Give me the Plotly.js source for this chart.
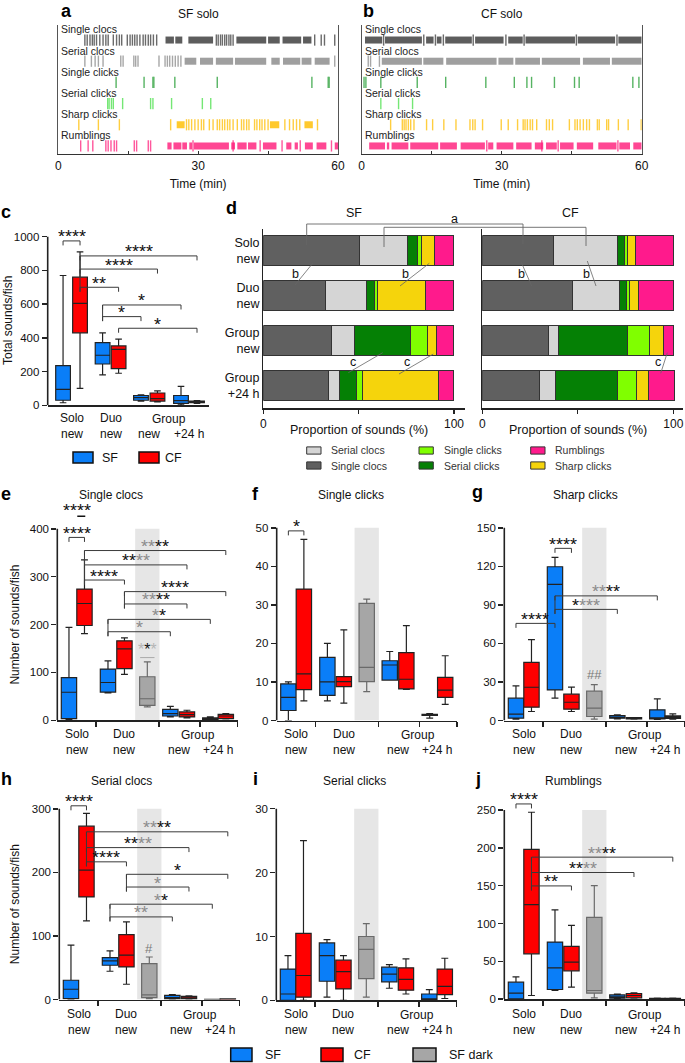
<!DOCTYPE html>
<html><head><meta charset="utf-8">
<script src="https://cdn.plot.ly/plotly-3.0.1.min.js"></script>
<style>html,body{margin:0;padding:0;background:#fff}</style>
</head><body><div id="chart" style="width:685px;height:1063px"></div>
<script>
// ======================= DATA =======================
const rowNames = ['Single clocs','Serial clocs','Single clicks','Serial clicks','Sharp clicks','Rumblings'];

// Panel a: SF solo — isolated sound times (min) and dense bouts [start, end] (min)
const aSingleClocsT = [5.7,6.2,6.8,7.3,7.7,8.2,8.9,9.6,10.2,10.7,11.8,12.5,13.1,13.6,14.8,15.4,15.9,16.4,16.9,17.5,18.2,18.7,19.3,19.8,20.4,21.1,33.9,34.3,34.8,35.2,35.7,36.1,36.6,37.0,37.5,55.0,56.4,57.1,59.3];
const aSingleClocsB = [[23.0,24.8],[25.1,26.6],[27.9,33.2],[38.2,44.6],[45.0,47.5],[48.1,52.1],[52.5,54.3]];
const aSerialClocsT = [5.7,7.1,7.9,8.6,9.6,13.4,13.9,16.2,16.6,17.1,21.6,22.9,23.4,23.9,24.5,25.1,25.7,26.3,59.3];
const aSerialClocsB = [[27.1,29.6],[30.4,33.2],[33.8,37.5],[37.9,44.6],[45.7,47.5],[48.2,51.9],[52.2,54.3],[55.0,58.2]];
const aSingleClicksT = [12.4,18.4,20.3,20.5,25.0,34.1,54.4,57.9,58.1];
const aSingleClicksB = [];
const aSerialClicksT = [10.6,10.9,11.4,11.8,13.8,19.8,20.3,24.3,30.9,32.7];
const aSerialClicksB = [];
const aSharpClicksT = [4.4,8.6,13.1,24.1,27.5,28.0,28.6,29.3,30.0,30.7,31.2,32.4,33.2,34.1,34.6,35.2,35.7,36.3,36.8,37.5,38.4,39.3,39.8,40.4,40.9,42.1,42.6,43.2,43.7,44.3,45.0,48.6,49.6,50.4,51.1,51.8,55.6];
const aSharpClicksB = [[25.4,27.1],[45.4,47.4],[52.8,54.6]];
const aRumblingsT = [4.8,6.4,7.4,10.2,10.7,11.3,12.0,12.5,16.3,16.8,19.3,19.8,28.9,37.5,43.3,48.0,51.9,58.6];
const aRumblingsB = [[23.4,24.3],[24.7,26.4],[26.6,27.6],[28.1,28.7],[29.1,36.6],[37.1,37.9],[38.4,40.4],[40.7,42.5],[43.9,46.8],[48.9,50.0],[50.7,51.4],[52.9,54.6],[55.4,57.5],[59.3,60.0]];

// Panel b: CF solo
const bSingleClocsT = [4.7,13.3,15.8,17.5,23.9,30.9,34.8,46.0,54.7];
const bSingleClocsB = [[0.7,4.4],[5.0,12.9],[13.8,15.4],[16.1,17.1],[17.9,23.6],[24.3,30.4],[31.4,34.5],[35.1,45.7],[46.3,54.3],[55.0,60.0]];
const bSerialClocsT = [1.4,1.9,3.8];
const bSerialClocsB = [[4.3,12.9],[13.2,17.5],[18.1,28.9],[29.3,32.5],[32.9,38.2],[38.6,46.8],[47.4,53.2],[53.6,60.0]];
const bSingleClicksT = [0.5,0.9,4.1,11.9,18.0,26.6,32.7,35.4,36.4,41.3,45.6,46.6,58.1,59.4];
const bSingleClicksB = [];
const bSerialClicksT = [4.1,7.9,10.9];
const bSerialClicksB = [];
const bSharpClicksT = [6.2,8.7,9.1,9.5,10.0,10.5,11.2,13.9,15.2,17.6,20.2,23.2,23.8,24.3,25.9,29.9,31.4,33.4,34.6,35.0,35.5,36.1,36.6,37.5,39.6,40.2,40.9,44.5,45.7,46.2,46.8,47.5,48.2,48.8,50.5,50.9,52.5,52.9,55.0,57.1,59.9];
const bSharpClicksB = [];
const bRumblingsT = [26.8,38.6,42.1,54.9];
const bRumblingsB = [[1.6,5.0],[5.4,5.9],[6.4,10.0],[10.4,16.4],[16.8,20.4],[21.2,26.4],[27.1,28.2],[28.9,32.5],[33.1,36.4],[37.1,38.9],[39.5,41.8],[42.5,45.4],[46.1,49.6],[50.7,54.6],[55.2,57.5],[58.2,60.0]];

// Panel c: total sounds per fish; rows = [lower whisker, Q1, median, Q3, upper whisker]
const cGroups = ['Solo new SF','Solo new CF','Duo new SF','Duo new CF','Group new SF','Group new CF','Group +24 h SF','Group +24 h CF'];
const totalSoundsStats = [[15,30,95,235,770],[100,430,605,760,910],[180,245,297,372,430],[190,218,332,352,392],[25,30,45,58,62],[20,25,40,73,85],[3,12,28,58,112],[12,15,20,25,28]];
const cBrackets = [[0,1,975,'****'],[1,7,886,'****'],[1,5,808,'****'],[1,3,700,'**'],[2,6,595,'*'],[2,4,526,'*'],[3,7,457,'*']];

// Panel d: proportion of sounds (%) — columns in stacking order
const dRows = ['Solo<br>new','Duo<br>new','Group<br>new','Group<br>+24 h'];
const dTypes = ['Single clocs','Serial clocs','Serial clicks','Single clicks','Sharp clicks','Rumblings'];
const sfProportions = [[50.7,24.8,5.4,2.3,6.6,10.1],[32.7,21.2,4.4,1.7,24.8,15.2],[35.8,12.2,29.2,8.9,4.9,8.9],[34.1,6.1,8.7,3.1,40.0,7.9]];
const cfProportions = [[37.5,33.3,3.8,1.4,4.2,19.7],[47.3,24.4,3.8,1.4,5.1,18.0],[34.9,4.9,36.3,11.7,7.0,5.2],[29.8,8.7,32.3,9.9,6.1,14.0]];

// Panels e–j: 9 groups; rows = [lower whisker, Q1, median, Q3, upper whisker]
const groups9 = ['Solo new SF','Solo new CF','Duo new SF','Duo new CF','Duo new SF dark','Group new SF','Group new CF','Group +24 h SF','Group +24 h CF'];
const groupKind = ['SF','CF','SF','CF','dark','SF','CF','SF','CF'];
const singleClocsStats = [[1,3.5,58.6,89,194],[181,198,244,274,335],[57,59,79,107,124],[96,108,149,166,172],[28,31,45,91,122],[7,9,14,23,29],[5,7,12,17.5,21],[1,2,3.5,5,7],[3,3.5,9,12.5,14]];
const singleClicksStats = [[0,2.6,6,9.5,10],[5.1,8,12.1,34.1,47],[5.1,6.5,10,16.4,20],[4.5,8.8,10.1,11.4,23.5],[7.5,10.1,13.8,30.4,31.5],[10.5,10.5,14.4,15.5,17.9],[8.1,8.2,10.7,17.6,24.6],[0.6,1.3,1.5,1.6,1.8],[4.2,6,7.9,11.2,16.8]];
const sharpClicksStats = [[1,1.8,4.9,17.4,27],[7,10.4,25.9,45.3,63],[17.4,23.8,106,119.7,127],[7,8.8,14.2,20.5,26],[1,3.1,9.6,22.8,28],[1.3,1.8,2.6,3.9,4.4],[1,1.3,1.8,2.3,2.3],[0.8,1.3,1.8,8.3,16.8],[1,1.6,2.6,3.6,5.2]];
const serialClocsStats = [[0,1.6,16.3,30.4,85.5],[123.8,161.5,203.5,272.7,292.7],[44.6,54,60.8,66,76.6],[24.1,51.4,69.8,102.3,122.2],[1,3.1,7.3,56.6,67],[0.5,1,3.1,6.8,7.9],[0.5,1,2.6,5.2,5.8],[0,0,0.1,0.3,0.5],[0,0.3,0.6,1,1.3]];
const serialClicksStats = [[0,0,1,4.9,7],[0,0.5,3.9,10.5,25],[0.5,3,7,9,9.5],[0,1.8,4.5,6.3,7],[0.5,3.4,8,10,12],[1.9,2.9,4.1,5.2,5.6],[1,1.6,3.3,5.1,6.5],[0,0.1,0.2,1,1.7],[0.3,0.9,2.2,4.9,6.6]];
const rumblingsStats = [[0,0.4,8,22.5,29.6],[4.9,60,125,198,247],[11.5,12.8,41.5,75.5,118],[16,37.5,49,69.8,97.6],[1.8,8,11.5,108.2,150],[0.4,1.3,3,5.7,6.6],[1.3,1.8,4.9,7.5,8.4],[0,0.2,0.5,1,1.5],[0,0.3,0.6,1,1.5]];

// Significance brackets: [group a, group b, height, stars ('g' = grey star)]
const eBrackets = [[0,1,382,'****'],[1,8,354.6,'gg**'],[1,6,324.6,'**gg'],[1,3,293,'****'],[3,8,268.8,'****'],[3,6,243,'gg**'],[2,7,210.8,'g*'],[2,5,185,'g']];
const fBrackets = [[0,1,49.2,'*']];
const gBrackets = [[2,3,134,'****'],[0,2,75.6,'****'],[2,7,97,'gg**'],[2,5,86.5,'*ggg']];
const hBrackets = [[0,1,304.7,'****'],[1,8,263.8,'gg**'],[1,6,239,'**gg'],[1,3,216.6,'****'],[3,8,197,'*'],[3,6,177,'g'],[2,7,150,'g*'],[2,5,130,'gg']];
const iBrackets = [];
const jBrackets = [[0,1,258,'****'],[1,8,187.7,'gg**'],[1,6,167.4,'**gg'],[1,3,149.7,'**']];

// ======================= STYLE / LAYOUT =======================
const W = 685, H = 1063;
const FONT = 'Liberation Sans, Arial, Helvetica, sans-serif';
const fx = px => px / W, fy = py => 1 - py / H;
const C = {SF:'#0a7ef8', CF:'#ff0000', dark:'#a6a6a6'};
const rowColors = ['#3a3a3a','#8a8a8a','#1e9a2e','#48e048','#ffbe00','#ff1f7c'];
const dColors = ['#606060','#d5d5d5','#058005','#80ff00','#f5d40c','#ff1a8c'];
const traces = [], shapes = [], annotations = [];
const layout = {width:W, height:H, margin:{l:0,r:0,t:0,b:0}, showlegend:false, hovermode:false,
  barmode:'stack', boxmode:'overlay', paper_bgcolor:'#fff', plot_bgcolor:'rgba(0,0,0,0)',
  font:{family:FONT, size:11, color:'#111'}};

function names(n){ const s = n===1 ? '' : String(n); return {xk:'xaxis'+s, yk:'yaxis'+s, xr:'x'+s, yr:'y'+s}; }
function txt(text, xpx, ypx, o){ annotations.push(Object.assign({text, xref:'paper', yref:'paper', x:fx(xpx), y:fy(ypx), showarrow:false, xanchor:'center', yanchor:'middle', font:{size:11, color:'#111', family:FONT}}, o||{})); }
function pline(x0,y0,x1,y1,color,w){ shapes.push({type:'line', xref:'paper', yref:'paper', x0:fx(x0), y0:fy(y0), x1:fx(x1), y1:fy(y1), line:{color:color||'#444', width:w||0.8}}); }
function prect(x0,y0,x1,y1,fill){ shapes.push({type:'rect', xref:'paper', yref:'paper', x0:fx(x0), y0:fy(y0), x1:fx(x1), y1:fy(y1), fillcolor:fill, line:{color:'#111', width:1.5}}); }
function letter(l, xpx, ypx){ txt('<b>'+l+'</b>', xpx, ypx, {font:{size:18, color:'#000', family:FONT}}); }
function starsHTML(lbl){ return lbl.split('').map(ch => ch==='g' ? '<span style="color:#8c8c8c">*</span>' : '*').join(''); }
// star labels: compact box (the asterisk glyph sits in the top part of the line box)
function starAnn(text, xr, yr, x, y, size){
  return {text, xref:xr, yref:yr, x, y, xanchor:'center', yanchor:'middle', height:9, valign:'top', yshift:9,
    showarrow:false, font:{size:size||18, color:'#111', family:FONT}};
}

// ---------- Raster panels (a, b) ----------
function drawRaster(n, leftPx, rightPx, rowsT, rowsB, title){
  const A = names(n);
  layout[A.xk] = {domain:[fx(leftPx), fx(rightPx)], anchor:A.yr, range:[0,60], tickvals:[0,15,30,45,60], ticktext:['0','','30','','60'],
    ticks:'inside', ticklen:3, tickwidth:1, tickcolor:'#333', showline:true, linecolor:'#333', linewidth:1.3,
    showgrid:false, zeroline:false, tickfont:{size:12}, title:{text:'Time (min)', font:{size:12}, standoff:8}};
  layout[A.yk] = {domain:[fy(154), fy(25)], anchor:A.xr, range:[5.38,-0.71], showline:true, mirror:true, linecolor:'#555', linewidth:1.2,
    ticks:'', showticklabels:false, showgrid:false, zeroline:false};
  rowsT.forEach((times, r) => {
    const bx = [], by = [];
    rowsB[r].forEach(b => { bx.push(b[0], b[1], null); by.push(r, r, null); });
    if (bx.length) traces.push({type:'scatter', mode:'lines', xaxis:A.xr, yaxis:A.yr, x:bx, y:by, opacity:0.82,
      line:{color:rowColors[r], width:7}});
    traces.push({type:'scatter', mode:'markers', xaxis:A.xr, yaxis:A.yr, x:times, y:times.map(() => r), opacity:0.75,
      marker:{symbol:'line-ns', size:8, line:{width:1.4, color:rowColors[r]}}});
    annotations.push({text:rowNames[r], xref:A.xr, yref:A.yr, x:0, y:r-0.5, xanchor:'left', yanchor:'middle', xshift:1,
      showarrow:false, font:{size:10.5, color:'#222', family:FONT}});
  });
  txt(title, (leftPx+rightPx)/2, 14, {font:{size:12, color:'#111', family:FONT}});
}
drawRaster(1, 58.3, 338, [aSingleClocsT,aSerialClocsT,aSingleClicksT,aSerialClicksT,aSharpClicksT,aRumblingsT],
  [aSingleClocsB,aSerialClocsB,aSingleClicksB,aSerialClicksB,aSharpClicksB,aRumblingsB], 'SF solo');
drawRaster(2, 361.7, 641.7, [bSingleClocsT,bSerialClocsT,bSingleClicksT,bSerialClicksT,bSharpClicksT,bRumblingsT],
  [bSingleClocsB,bSerialClocsB,bSingleClicksB,bSerialClicksB,bSharpClicksB,bRumblingsB], 'CF solo');
letter('a', 66, 11); letter('b', 368, 11);

// ---------- Box panels (c, e–j) ----------
function drawBoxPanel(n, cfg, stats, kinds, brackets){
  const A = names(n);
  const yr1 = cfg.ymax * (cfg.zeroPx - cfg.topPx) / (cfg.zeroPx - cfg.maxPx);
  const pxPerVal = (cfg.zeroPx - cfg.maxPx) / cfg.ymax;
  const pos = cfg.pos;
  layout[A.xk] = {domain:[fx(cfg.leftPx), fx(cfg.leftPx + cfg.widthPx)], anchor:A.yr, range:cfg.xrange,
    tickvals:cfg.seps, ticktext:cfg.seps.map(() => ''), ticks:cfg.seps.length ? 'outside' : '', ticklen:5, tickwidth:1.5, tickcolor:'#222',
    showline:true, linecolor:'#222', linewidth:1.6, showgrid:false, zeroline:false};
  const tv = []; for (let v = 0; v <= cfg.ymax + 1e-9; v += cfg.dtick) tv.push(v);
  layout[A.yk] = {domain:[fy(cfg.zeroPx), fy(cfg.topPx)], anchor:A.xr, range:[0, yr1], tickvals:tv,
    ticks:'outside', ticklen:5, tickwidth:1.5, tickcolor:'#222', showline:false, showgrid:false, zeroline:false,
    tickfont:{size:11.5}};
  shapes.push({type:'line', xref:A.xr+' domain', x0:0, x1:0, yref:A.yr, y0:0, y1:cfg.ymax, line:{color:'#222', width:1.6}});
  // grey band behind SF dark
  const di = kinds.indexOf('dark');
  if (di >= 0) shapes.push({type:'rect', layer:'below', xref:A.xr, yref:A.yr, x0:pos[di]-0.76, x1:pos[di]+0.76, y0:0, y1:cfg.ymax,
    fillcolor:'#e6e6e6', line:{width:0}});
  ['SF','CF','dark'].forEach(k => {
    const idx = kinds.map((kk,i) => kk===k ? i : -1).filter(i => i >= 0);
    if (!idx.length) return;
    traces.push({type:'box', xaxis:A.xr, yaxis:A.yr, x:idx.map(i => pos[i]),
      lowerfence:idx.map(i => stats[i][0]), q1:idx.map(i => stats[i][1]), median:idx.map(i => stats[i][2]),
      q3:idx.map(i => stats[i][3]), upperfence:idx.map(i => stats[i][4]),
      width:cfg.boxW, whiskerwidth:0.45, boxpoints:false, fillcolor:C[k],
      line:{color:k==='dark' ? '#6a6a6a' : '#222', width:1.2}});
  });
  // brackets
  const drop = 4.5 / pxPerVal;
  const byOrigin = {};
  brackets.forEach(b => {
    const [a, c, y, lbl] = b;
    shapes.push({type:'path', xref:A.xr, yref:A.yr, path:`M${pos[a]},${y-drop} L${pos[a]},${y} L${pos[c]},${y} L${pos[c]},${y-drop}`,
      line:{color:'#3a3a3a', width:1}});
    if (c - a > 1) (byOrigin[a] = byOrigin[a] || []).push(y);
    annotations.push(starAnn(starsHTML(lbl), A.xr, A.yr, (pos[a]+pos[c])/2, y));
  });
  Object.keys(byOrigin).forEach(o => {
    const ys = byOrigin[o]; if (ys.length < 2) return;
    shapes.push({type:'line', xref:A.xr, yref:A.yr, x0:pos[o], x1:pos[o], y0:Math.max(...ys), y1:Math.min(...ys)-drop, line:{color:'#3a3a3a', width:1}});
  });
  // category labels
  const m = arr => arr.reduce((s,v) => s+v, 0) / arr.length;
  const L = cfg.labels;
  const lab = (t, x, ypx) => annotations.push({text:t, xref:A.xr, yref:'paper', x:x, y:fy(ypx), xanchor:'center', yanchor:'middle',
    showarrow:false, font:{size:12, color:'#111', family:FONT}});
  lab('Solo<br>new', m([pos[L.solo[0]], pos[L.solo[1]]]), (cfg.lab1+cfg.lab2)/2);
  lab('Duo<br>new', m(L.duo.map(i => pos[i])), (cfg.lab1+cfg.lab2)/2);
  lab('Group', m(L.group.map(i => pos[i])), cfg.lab1);
  lab('new', m([pos[L.group[0]], pos[L.group[1]]]), cfg.lab2);
  lab('+24 h', m([pos[L.group[2]], pos[L.group[3]]]), cfg.lab2);
  if (cfg.title) txt(cfg.title, cfg.titleX, cfg.titleY, {font:{size:12, color:'#111', family:FONT}});
  if (cfg.ytitle) txt(cfg.ytitle, cfg.ytitleX, (cfg.zeroPx+cfg.maxPx)/2, {textangle:-90, font:{size:12, color:'#111', family:FONT}});
  return A;
}

// c
const posC = [0.96, 2.02, 3.43, 4.43, 5.83, 6.86, 8.33, 9.33];
drawBoxPanel(3, {leftPx:47.7, widthPx:161.3, zeroPx:405.3, maxPx:236.7, topPx:222, ymax:1000, dtick:200,
  pos:posC, xrange:[0,10.08], seps:[], boxW:0.92, lab1:418.5, lab2:433.5,
  labels:{solo:[0,1], duo:[2,3], group:[4,5,6,7]}, ytitle:'Total sounds/fish', ytitleX:8},
  totalSoundsStats, ['SF','CF','SF','CF','SF','CF','SF','CF'], cBrackets);
letter('c', 6, 212);
prect(73, 452, 93, 463, C.SF); txt('SF', 100, 457.5, {xanchor:'left', font:{size:12.5, color:'#111', family:FONT}});
prect(139, 452, 159, 463, C.CF); txt('CF', 163, 457.5, {xanchor:'left', font:{size:12.5, color:'#111', family:FONT}});

// e–j
const pos9 = [0, 0.97, 2.44, 3.47, 4.9, 6.34, 7.38, 8.84, 9.81];
const seps9 = [1.69, 5.63, 8.19, 10.54];
const lab9 = {solo:[0,1], duo:[3], group:[5,6,7,8]};
function cfg9(leftPx, zeroPx, maxPx, ymax, dtick, title, titleX, titleY, lab1, lab2, ytitle){
  return {leftPx, widthPx:180.5, zeroPx, maxPx, topPx:maxPx-24, ymax, dtick, pos:pos9, xrange:[-0.73,10.56], seps:seps9, boxW:0.96,
    lab1, lab2, labels:lab9, title, titleX, titleY, ytitle, ytitleX:15};
}
const eA = drawBoxPanel(6, cfg9(57.3, 720.3, 528.8, 400, 100, 'Single clocs', 111, 495, 735, 749.5, 'Number of sounds/fish'), singleClocsStats, groupKind, eBrackets);
drawBoxPanel(7, cfg9(276.7, 720.5, 527.8, 50, 10, 'Single clicks', 350.7, 495, 735, 749.5), singleClicksStats, groupKind, fBrackets);
const gA = drawBoxPanel(8, cfg9(504.3, 720.5, 527.8, 150, 30, 'Sharp clicks', 585.7, 495, 735, 749.5), sharpClicksStats, groupKind, gBrackets);
const hA = drawBoxPanel(9, cfg9(59.3, 999.6, 808.8, 300, 100, 'Serial clocs', 121.7, 781, 1015, 1029.5, 'Number of sounds/fish'), serialClocsStats, groupKind, hBrackets);
drawBoxPanel(10, cfg9(276.3, 1000.4, 808.7, 30, 10, 'Serial clicks', 354, 781, 1015, 1029.5), serialClicksStats, groupKind, iBrackets);
drawBoxPanel(11, cfg9(504.3, 999.2, 810, 250, 50, 'Rumblings', 573.3, 781, 1015, 1029.5), rumblingsStats, groupKind, jBrackets);
letter('e', 6, 494); letter('f', 256, 494); letter('g', 478, 492);
letter('h', 6, 779); letter('i', 255, 779); letter('j', 478, 779);

// extra marks in e, g, h
annotations.push(starAnn('****', eA.xr, eA.yr, (pos9[0]+pos9[1])/2, 429));
shapes.push({type:'line', xref:eA.xr, yref:eA.yr, x0:pos9[1]-0.45, x1:pos9[1]+0.05, y0:426, y1:426, line:{color:'#111', width:1.5}});
annotations.push(starAnn('<span style="color:#b5b5b5">*</span>*<span style="color:#b5b5b5">*</span>', eA.xr, eA.yr, pos9[4], 137, 16));
shapes.push({type:'line', xref:eA.xr, yref:eA.yr, x0:pos9[4]-0.45, x1:pos9[4]+0.45, y0:131, y1:131, line:{color:'#aaa', width:1}});
annotations.push({text:'##', xref:gA.xr, yref:gA.yr, x:pos9[4], y:35.5, showarrow:false, font:{size:13, color:'#7a7a7a', family:FONT}});
annotations.push({text:'#', xref:hA.xr, yref:hA.yr, x:pos9[4], y:81, showarrow:false, font:{size:13, color:'#7a7a7a', family:FONT}});

// ---------- Panel d: stacked proportions ----------
function drawProp(n, leftPx, hundredPx, rightPx, props, showLabels, title, titleX){
  const A = names(n);
  const xr1 = 100 * (rightPx - leftPx) / (hundredPx - leftPx);
  layout[A.xk] = {domain:[fx(leftPx), fx(rightPx)], anchor:A.yr, range:[0, xr1], tickvals:[0,50,100], ticktext:['0','','100'],
    ticks:'outside', ticklen:4, tickwidth:1.2, tickcolor:'#222', showline:true, linecolor:'#222', linewidth:1.3,
    showgrid:false, zeroline:false, tickfont:{size:12}};
  layout[A.yk] = {domain:[fy(408.3), fy(229)], anchor:A.xr, range:[3.51,-0.49], tickvals:[0,1,2,3], ticktext:dRows,
    showticklabels:showLabels, ticks:'', showline:true, linecolor:'#222', linewidth:1.3, showgrid:false, zeroline:false,
    tickfont:{size:12.5}};
  dTypes.forEach((t, k) => {
    traces.push({type:'bar', orientation:'h', xaxis:A.xr, yaxis:A.yr, y:[0,1,2,3], x:props.map(r => r[k]), width:0.67,
      marker:{color:dColors[k], line:{color:'#333', width:1}}, name:t});
  });
  annotations.push({text:'Proportion of sounds (%)', xref:A.xr, yref:'paper', x:50, y:fy(430), showarrow:false,
    font:{size:12.5, color:'#111', family:FONT}});
  txt(title, titleX, 213, {font:{size:12.5, color:'#111', family:FONT}});
}
drawProp(4, 263.3, 454, 465, sfProportions, true, 'SF', 354);
drawProp(5, 482.3, 673.3, 683, cfProportions, false, 'CF', 570);
letter('d', 231, 208);
// significance annotations in d
pline(306.7,245,306.7,224,'#666',0.9); pline(306.7,224,523,224,'#666',0.9); pline(523,224,523,244,'#666',0.9);
pline(384,247,384,227.3,'#666',0.9); pline(384,227.3,586,227.3,'#666',0.9); pline(586,227.3,586,246,'#666',0.9);
txt('a', 454, 218.5, {font:{size:12.5, color:'#111', family:FONT}});
pline(312.7,263.3,295,285,'#666',0.8); txt('b', 295.7, 274, {font:{size:12.5, color:'#111', family:FONT}});
pline(429.3,263.3,400,286,'#666',0.8); txt('b', 405.7, 274, {font:{size:12.5, color:'#111', family:FONT}});
pline(521,261.7,531.7,286,'#666',0.8); txt('b', 521, 274, {font:{size:12.5, color:'#111', family:FONT}});
pline(587.3,261,596,286,'#666',0.8); txt('b', 586, 274, {font:{size:12.5, color:'#111', family:FONT}});
pline(382.7,352.7,348.3,372.7,'#666',0.8); txt('c', 353.3, 362.3, {font:{size:12.5, color:'#111', family:FONT}});
pline(433.3,354,399,374,'#666',0.8); txt('c', 406.7, 362.3, {font:{size:12.5, color:'#111', family:FONT}});
pline(667.3,352.7,660.7,373.3,'#666',0.8); txt('c', 657.7, 362.3, {font:{size:12.5, color:'#111', family:FONT}});
// legend of d
const dLegend = [[0,1,'Serial clocs'],[1,1,'Single clicks'],[2,1,'Rumblings'],[0,0,'Single clocs'],[1,0,'Serial clicks'],[2,0,'Sharp clicks']];
const dLegX = [306.7, 419, 530.7];
dLegend.forEach(([col,row1,name]) => {
  const yc = row1 ? 450.5 : 465.5; const k = dTypes.indexOf(name);
  shapes.push({type:'rect', xref:'paper', yref:'paper', x0:fx(dLegX[col]), x1:fx(dLegX[col]+14.3), y0:fy(yc+3.6), y1:fy(yc-3.6),
    fillcolor:dColors[k], line:{color:'#333', width:1}});
  txt(name, dLegX[col]+22.5, yc, {xanchor:'left', font:{size:10.5, color:'#333', family:FONT}});
});

// bottom legend
prect(230.7, 1048, 252, 1061.5, C.SF); txt('SF', 263, 1055, {xanchor:'left', font:{size:12.5, color:'#111', family:FONT}});
prect(321, 1048, 343, 1061.5, C.CF); txt('CF', 352, 1055, {xanchor:'left', font:{size:12.5, color:'#111', family:FONT}});
prect(413, 1048, 436, 1061.5, C.dark); txt('SF dark', 447, 1055, {xanchor:'left', font:{size:12.5, color:'#111', family:FONT}});

layout.shapes = shapes; layout.annotations = annotations;
Plotly.newPlot('chart', traces, layout, {staticPlot:true, displayModeBar:false});
</script></body></html>
